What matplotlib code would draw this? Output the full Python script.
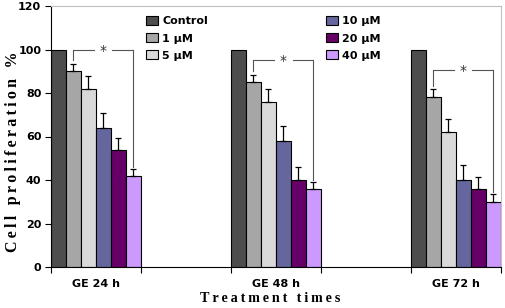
import numpy as np
import matplotlib
matplotlib.use("Agg")
import matplotlib.pyplot as plt

# data
times = ["GE 24 h", "GE 48 h", "GE 72 h"]
doses = ["Control", "1 \u03bcM", "5 \u03bcM", "10 \u03bcM", "20 \u03bcM", "40 \u03bcM"]
values = [
    [100, 90, 82, 64, 54, 42],
    [100, 85, 76, 58, 40, 36],
    [100, 78, 62, 40, 36, 30],
]
errors = [
    [0, 3.5, 6, 7, 5.5, 3],
    [0, 3.5, 6, 7, 6, 3],
    [0, 3.7, 6, 7, 5.5, 3.7],
]
# height of the significance bracket per group
bracket_y = [100, 95.2, 90.6]

colors = ["#4d4d4d", "#a6a6a6", "#d9d9d9", "#66669e", "#660066", "#cc99ff"]


def spaced(s):
    # wide letter spacing like the original figure
    return "\u2009".join(s)


fig = plt.figure(figsize=(5.06, 3.08), dpi=100)
ax = fig.add_axes([51 / 506, 41 / 308, 450 / 506, 261 / 308])

bar_w = 1.0
group_start = [0, 12, 24]
handles = []

for gi, start in enumerate(group_start):
    for di in range(len(doses)):
        x = start + di * bar_w + bar_w / 2
        b = ax.bar(x, values[gi][di], width=bar_w, color=colors[di],
                   edgecolor="black", linewidth=0.8, zorder=2)
        if gi == 0:
            handles.append(b)
        if errors[gi][di] > 0:
            ax.errorbar(x, values[gi][di], yerr=[[0], [errors[gi][di]]],
                        fmt="none", ecolor="black", elinewidth=0.9,
                        capsize=2.5, capthick=0.9, zorder=3)

    # significance bracket between 1 uM and 40 uM
    x1 = start + 1.5
    x2 = start + 5.5
    yb = bracket_y[gi]
    top1 = values[gi][1] + errors[gi][1] + 1.5
    top2 = values[gi][5] + errors[gi][5] + 1
    xm = (x1 + x2) / 2
    lc = "#555555"
    ax.plot([x1, x1], [top1, yb], color=lc, lw=0.8, zorder=4)
    ax.plot([x1, xm - 0.6], [yb, yb], color=lc, lw=0.8, zorder=4)
    ax.plot([xm + 0.6, x2], [yb, yb], color=lc, lw=0.8, zorder=4)
    ax.plot([x2, x2], [yb, top2], color=lc, lw=0.8, zorder=4)
    ax.text(xm, yb - 0.5, "*", ha="center", va="center", fontsize=10,
            color="#333333", zorder=4)

ax.set_xlim(0, 30)
ax.set_ylim(0, 120)
ax.set_yticks(np.arange(0, 121, 20))
ax.set_yticklabels([str(v) for v in range(0, 121, 20)],
                   fontsize=8, fontweight="bold", family="DejaVu Sans")
ax.set_xticks([0, 6, 12, 18, 24, 30])
ax.set_xticklabels([])
ax.tick_params(axis="x", length=4, direction="out", width=0.8)
ax.tick_params(axis="y", length=4, direction="out", width=0.8, pad=3)

for gi, start in enumerate(group_start):
    ax.text(start + 3, -5.5, times[gi], ha="center", va="top",
            fontsize=8, fontweight="bold", family="DejaVu Sans")

ax.spines["left"].set_color("black")
ax.spines["bottom"].set_color("black")
ax.spines["top"].set_color("#c0c0c0")
ax.spines["right"].set_color("#c0c0c0")

fig.text(13 / 506, 1 - 152 / 308, spaced("Cell proliferation %"),
         rotation=90, ha="center", va="center", fontsize=11.5,
         fontweight="bold", family=["Liberation Serif", "DejaVu Serif"])
fig.text(270 / 506, 1 - 298 / 308, spaced("Treatment times"),
         ha="center", va="center", fontsize=10.2,
         fontweight="bold", family=["Liberation Serif", "DejaVu Serif"])

legend_font = {"size": 8, "weight": "bold"}
leg1 = ax.legend(handles[:3], doses[:3], loc="upper left",
                 bbox_to_anchor=(0.19, 1.0), frameon=False, prop=legend_font,
                 handlelength=1.0, handleheight=0.9, handletextpad=0.4,
                 labelspacing=0.6)
ax.add_artist(leg1)
ax.legend(handles[3:], doses[3:], loc="upper left",
          bbox_to_anchor=(0.59, 1.0), frameon=False, prop=legend_font,
          handlelength=1.0, handleheight=0.9, handletextpad=0.4,
          labelspacing=0.6)

fig.savefig("out.png", dpi=100)
